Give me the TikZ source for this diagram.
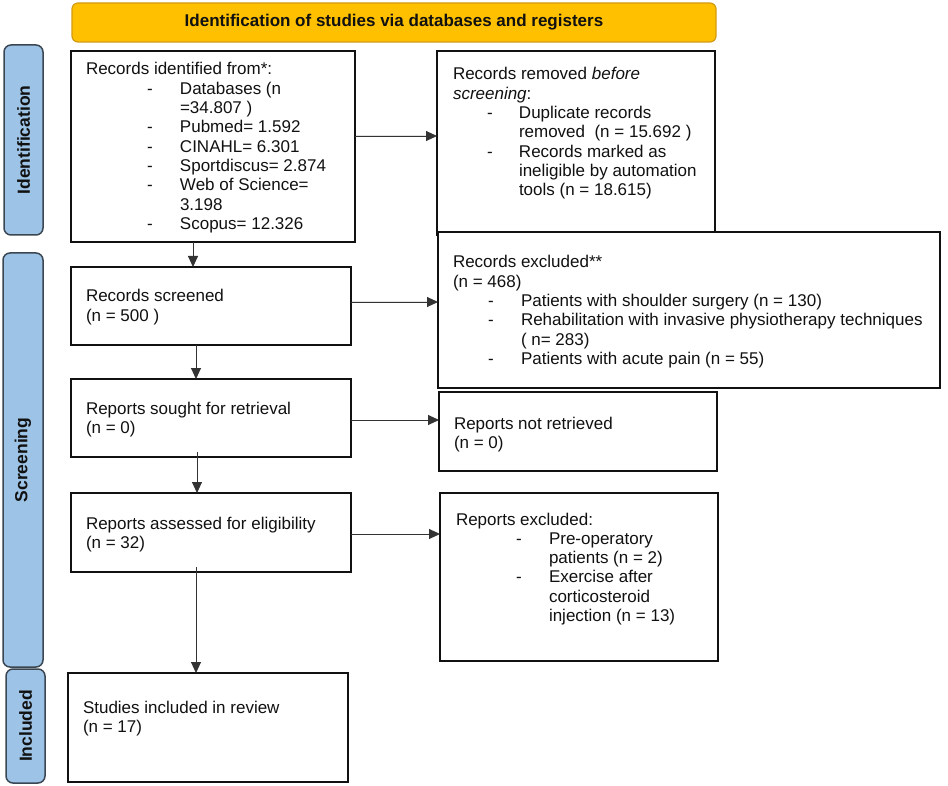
\documentclass[tikz,border=0pt]{standalone}
\usepackage{fontspec}
\setmainfont{Liberation Sans}
\usetikzlibrary{arrows.meta}
\definecolor{hdrfill}{HTML}{FFC000}
\definecolor{hdrdraw}{HTML}{D39B12}
\definecolor{sidefill}{HTML}{9DC3E6}
\definecolor{sidedraw}{HTML}{3A4652}
\definecolor{ink}{HTML}{111111}
\definecolor{arrink}{HTML}{333333}
\newcommand\di[3]{\hspace*{#1pt}\makebox[0pt][l]{-}\hspace*{\dimexpr#2pt-#1pt\relax}#3}
\newcommand\ci[2]{\hspace*{#1pt}#2}
\newcommand\bt[2]{\parbox[t]{#1pt}{\fontsize{17}{19.3}\selectfont #2}}
\tikzset{
  box/.style={draw=ink, line width=1.6pt, fill=white, inner sep=0pt, outer sep=0pt},
  txt/.style={anchor=base west, inner sep=0pt, outer sep=0pt, text=ink},
  hdr/.style={draw=hdrdraw, fill=hdrfill, line width=1.2pt, rounded corners=6pt, inner sep=0pt,
    font=\bfseries\fontsize{17}{19}\selectfont, text=ink},
  side/.style={draw=sidedraw, fill=sidefill, line width=1.5pt, rounded corners=7pt, inner sep=0pt,
    rotate=90, font=\bfseries\fontsize{17.5}{20}\selectfont, text=ink},
  arr/.style={-{Triangle[length=11pt,width=10pt]}, line width=0.9pt, draw=arrink, fill=ink}
}
\begin{document}
\begin{tikzpicture}[x=1pt,y=-1pt]
\useasboundingbox (0,0) rectangle (948,786);
\fill[white] (0,0) rectangle (948,786);

% header
\node[hdr, minimum width=644, minimum height=39] (hdr) at (394,22.5) {Identification of studies via databases and registers};

% side bars
\node[side, minimum width=190, minimum height=39] (sId) at (23.5,140) {Identification};
\node[side, minimum width=414, minimum height=40] (sScr) at (23,460) {Screening};
\node[side, minimum width=114, minimum height=39] (sInc) at (25.5,726) {Included};

% boxes
\node[box, minimum width=284, minimum height=191] (ident) at (213,146.5) {};
\node[box, minimum width=278, minimum height=184] (removed) at (576,143) {};
\node[box, minimum width=502, minimum height=156] (excluded) at (689,310) {};
\node[box, minimum width=280, minimum height=78] (screened) at (211,306) {};
\node[box, minimum width=280, minimum height=78] (sought) at (211,418) {};
\node[box, minimum width=278, minimum height=79] (notret) at (578,431.5) {};
\node[box, minimum width=280, minimum height=79] (assessed) at (211,532.5) {};
\node[box, minimum width=278, minimum height=168] (repexcl) at (579,577) {};
\node[box, minimum width=280, minimum height=109] (included) at (208,727.5) {};

% texts
\node[txt] (tIdent) at (86,75) {\bt{265}{Records identified from*:\\
\di{61}{94}{Databases (n}\\
\ci{94}{=34.807 )}\\
\di{61}{94}{Pubmed= 1.592}\\
\di{61}{94}{CINAHL= 6.301}\\
\di{61}{94}{Sportdiscus= 2.874}\\
\di{61}{94}{Web of Science=}\\
\ci{94}{3.198}\\
\di{61}{94}{Scopus= 12.326}}};

\node[txt] (tRemoved) at (453,80) {\bt{260}{Records removed \textit{before}\\
\textit{screening}:\\
\di{34}{66}{Duplicate records}\\
\ci{66}{removed\ \ (n = 15.692 )}\\
\di{34}{66}{Records marked as}\\
\ci{66}{ineligible by automation}\\
\ci{66}{tools (n = 18.615)}}};

\node[txt] (tExcluded) at (453,268) {\bt{480}{Records excluded**\\
(n = 468)\\
\di{35}{68}{Patients with shoulder surgery (n = 130)}\\
\di{35}{68}{Rehabilitation with invasive physiotherapy techniques}\\
\ci{68}{( n= 283)}\\
\di{35}{68}{Patients with acute pain (n = 55)}}};

\node[txt] (tScreened) at (86,302) {\bt{260}{Records screened\\(n = 500 )}};
\node[txt] (tSought) at (86,414) {\bt{260}{Reports sought for retrieval\\(n = 0)}};
\node[txt] (tAssessed) at (86,529) {\bt{260}{Reports assessed for eligibility\\(n = 32)}};
\node[txt] (tIncluded) at (83,713) {\bt{260}{Studies included in review\\(n = 17)}};
\node[txt] (tNotret) at (454,429) {\bt{260}{Reports not retrieved\\(n = 0)}};
\node[txt] (tRepexcl) at (456,525) {\bt{260}{Reports excluded:\\
\di{60}{93}{Pre-operatory}\\
\ci{93}{patients (n = 2)}\\
\di{60}{93}{Exercise after}\\
\ci{93}{corticosteroid}\\
\ci{93}{injection (n = 13)}}};

% horizontal arrows
\draw[arr] ([yshift=10.5pt]ident.east) -- ([yshift=10.5pt]ident.east -| removed.west);
\draw[arr] ([yshift=4pt]screened.east) -- ([yshift=4pt]screened.east -| excluded.west);
\draw[arr] ([yshift=-2pt]sought.east) -- ([yshift=-2pt]sought.east -| notret.west);
\draw[arr] ([yshift=-1.5pt]assessed.east) -- ([yshift=-1.5pt]assessed.east -| repexcl.west);

% vertical arrows
\draw[arr] ([xshift=-20pt]ident.south) -- ([xshift=-20pt]ident.south |- screened.north);
\draw[arr] ([xshift=-15pt]screened.south) -- ([xshift=-15pt]screened.south |- sought.north);
\draw[arr] ([xshift=-14pt,yshift=5pt]sought.south) -- ([xshift=-14pt]sought.south |- assessed.north);
\draw[arr] ([xshift=-15pt,yshift=5pt]assessed.south) -- ([xshift=-15pt]assessed.south |- included.north);
\end{tikzpicture}
\end{document}
